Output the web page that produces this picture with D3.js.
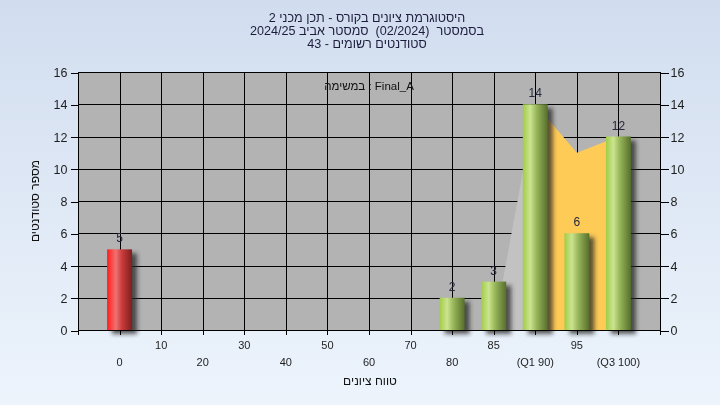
<!DOCTYPE html>
<html>
<head>
<meta charset="utf-8">
<script src="https://cdn.jsdelivr.net/npm/d3@7"></script>
<style>
  html, body { margin: 0; padding: 0; }
  body { width: 720px; height: 405px; overflow: hidden; }
  svg { display: block; font-family: "Liberation Sans", Arial, "DejaVu Sans", sans-serif; }
</style>
</head>
<body>
<svg id="chart" width="720" height="405"></svg>
<script>
// ---------- data ----------
const titleLines = [
  "היסטוגרמת ציונים בקורס - תכן מכני 2",
  "בסמסטר  (02/2024)  סמסטר אביב 2024/25",
  "סטודנטים רשומים - 43"
];
const assignmentLabel = "במשימה : Final_A";
const xAxisTitle = "טווח ציונים";
const yAxisTitle = "מספר סטודנטים";

const categories = ["0", "10", "20", "30", "40", "50", "60", "70", "80", "85", "90", "95", "100"];
const tickLabels = ["0", "10", "20", "30", "40", "50", "60", "70", "80", "85", "(Q1 90)", "95", "(Q3 100)"];
const counts     = [5, 0, 0, 0, 0, 0, 0, 0, 2, 3, 14, 6, 12];
const failingCategory = "0";

const lowerAreaCats   = ["85", "90"];
const lowerAreaValues = [0, 14];
const iqrAreaCats     = ["90", "95", "100"];
const iqrAreaValues   = [14, 11, 12];

const yTicks = [0, 2, 4, 6, 8, 10, 12, 14, 16];

// ---------- layout ----------
const W = 720, H = 405;
const plot = { left: 78, right: 660, top: 72, bottom: 330 };

const svg = d3.select("#chart");
const defs = svg.append("defs");

const bg = defs.append("linearGradient").attr("id", "bg").attr("x1", 0).attr("y1", 0).attr("x2", 0).attr("y2", 1);
bg.append("stop").attr("offset", "0%").attr("stop-color", "#d1ddef");
bg.append("stop").attr("offset", "100%").attr("stop-color", "#edf4fc");

function cyl(id, stops) {
  const g = defs.append("linearGradient").attr("id", id).attr("x1", 0).attr("y1", 0).attr("x2", 1).attr("y2", 0);
  stops.forEach(s => g.append("stop").attr("offset", s[0]).attr("stop-color", s[1]));
}
cyl("gGreen", [["0%", "#a2cc48"], ["30%", "#cbe48f"], ["55%", "#98b65a"], ["100%", "#566f2c"]]);
cyl("gRed",   [["0%", "#ff1c1c"], ["35%", "#f07272"], ["60%", "#c83a3a"], ["100%", "#7e1e1e"]]);

const blur = defs.append("filter").attr("id", "blur").attr("x", "-50%").attr("y", "-50%").attr("width", "200%").attr("height", "200%");
blur.append("feGaussianBlur").attr("stdDeviation", 2);

svg.append("rect").attr("width", W).attr("height", H).attr("fill", "url(#bg)");

// scales
const x = d3.scalePoint().domain(categories).range([plot.left, plot.right]).padding(1);
const y = d3.scaleLinear().domain([0, 16]).range([plot.bottom, plot.top]);
const barW = x.step() * 0.6;

// plot background
svg.append("rect")
  .attr("x", plot.left).attr("y", plot.top)
  .attr("width", plot.right - plot.left).attr("height", plot.bottom - plot.top)
  .attr("fill", "#b3b3b3");

// grid
const grid = svg.append("g").attr("stroke", "#000").attr("stroke-width", 1).attr("shape-rendering", "crispEdges");
grid.selectAll("line.h").data(yTicks).join("line")
  .attr("x1", plot.left).attr("x2", plot.right)
  .attr("y1", d => Math.round(y(d)) + 0.5).attr("y2", d => Math.round(y(d)) + 0.5);
grid.selectAll("line.v").data(categories).join("line")
  .attr("x1", d => Math.round(x(d)) + 0.5).attr("x2", d => Math.round(x(d)) + 0.5)
  .attr("y1", plot.top).attr("y2", plot.bottom);

// areas
const area = d3.area().x(d => x(d[0])).y0(y(0)).y1(d => y(d[1]));
svg.append("path").datum(lowerAreaCats.map((c, i) => [c, lowerAreaValues[i]]))
  .attr("d", area).attr("fill", "#c2c2c2");
svg.append("path").datum(iqrAreaCats.map((c, i) => [c, iqrAreaValues[i]]))
  .attr("d", area).attr("fill", "#fecb57");

const barData = categories.map((c, i) => ({ cat: c, v: counts[i] })).filter(d => d.v > 0);

// shadows
svg.append("g").attr("filter", "url(#blur)")
  .selectAll("rect").data(barData).join("rect")
  .attr("x", d => x(d.cat) - barW / 2 + 5)
  .attr("y", d => y(d.v) + 4)
  .attr("width", barW)
  .attr("height", d => y(0) - y(d.v))
  .attr("fill", "#2a2a2a").attr("opacity", 0.75);

// bars
svg.append("g").selectAll("rect").data(barData).join("rect")
  .attr("x", d => x(d.cat) - barW / 2)
  .attr("y", d => y(d.v))
  .attr("width", barW)
  .attr("height", d => y(0) - y(d.v))
  .attr("fill", d => d.cat === failingCategory ? "url(#gRed)" : "url(#gGreen)");

// value labels
svg.append("g").selectAll("text").data(barData).join("text")
  .attr("x", d => x(d.cat))
  .attr("y", d => y(d.v) - 7)
  .attr("text-anchor", "middle")
  .attr("font-size", 12)
  .attr("fill", "#26263e")
  .text(d => d.v);

// axes lines
const axes = svg.append("g").attr("stroke", "#000").attr("stroke-width", 1).attr("shape-rendering", "crispEdges");
axes.append("line").attr("x1", plot.left + 0.5).attr("x2", plot.left + 0.5).attr("y1", plot.top).attr("y2", plot.bottom + 5);
axes.append("line").attr("x1", plot.right + 0.5).attr("x2", plot.right + 0.5).attr("y1", plot.top).attr("y2", plot.bottom + 5);
axes.append("line").attr("x1", plot.left).attr("x2", plot.right + 1).attr("y1", plot.bottom + 0.5).attr("y2", plot.bottom + 0.5);

// y axes (left / right)
const yLeft = d3.axisLeft(y).tickValues(yTicks).tickSize(8).tickPadding(3);
const yRight = d3.axisRight(y).tickValues(yTicks).tickSize(8).tickPadding(2);
function styleAxis(g) {
  g.select(".domain").remove();
  g.selectAll(".tick line").attr("stroke", "#000").attr("shape-rendering", "crispEdges");
  g.selectAll(".tick text").attr("fill", "#1e1e1e").attr("font-size", 12.5)
    .attr("font-family", "'Liberation Sans', Arial, sans-serif");
}
svg.append("g").attr("transform", `translate(${plot.left + 0.5},0.5)`).call(yLeft).call(styleAxis);
svg.append("g").attr("transform", `translate(${plot.right + 0.5},0.5)`).call(yRight).call(styleAxis);

// x axis ticks
axes.selectAll("line.xt").data(categories).join("line")
  .attr("x1", d => Math.round(x(d)) + 0.5).attr("x2", d => Math.round(x(d)) + 0.5)
  .attr("y1", plot.bottom).attr("y2", plot.bottom + 5);

// x tick labels (staggered)
svg.append("g").selectAll("text").data(categories).join("text")
  .attr("x", d => x(d))
  .attr("y", (d, i) => i % 2 === 1 ? 349 : 366)
  .attr("text-anchor", "middle")
  .attr("font-size", 11)
  .attr("fill", "#1e1e1e")
  .text((d, i) => tickLabels[i]);

// titles
svg.append("g").selectAll("text").data(titleLines).join("text")
  .attr("x", 367)
  .attr("y", (d, i) => 21.5 + i * 13)
  .attr("text-anchor", "middle")
  .attr("direction", "rtl")
  .style("white-space", "pre")
  .attr("font-size", 12.6)
  .attr("fill", "#1c1c3c")
  .text(d => d);

svg.append("text")
  .attr("x", 369).attr("y", 90)
  .attr("text-anchor", "middle")
  .attr("font-size", 11.5)
  .attr("fill", "#111")
  .text(assignmentLabel);

svg.append("text")
  .attr("x", 370).attr("y", 385)
  .attr("text-anchor", "middle")
  .attr("font-size", 12)
  .attr("fill", "#111")
  .text(xAxisTitle);

svg.append("text")
  .attr("transform", "translate(39,201) rotate(-90)")
  .attr("text-anchor", "middle")
  .attr("font-size", 12)
  .attr("fill", "#111")
  .text(yAxisTitle);
</script>
</body>
</html>
